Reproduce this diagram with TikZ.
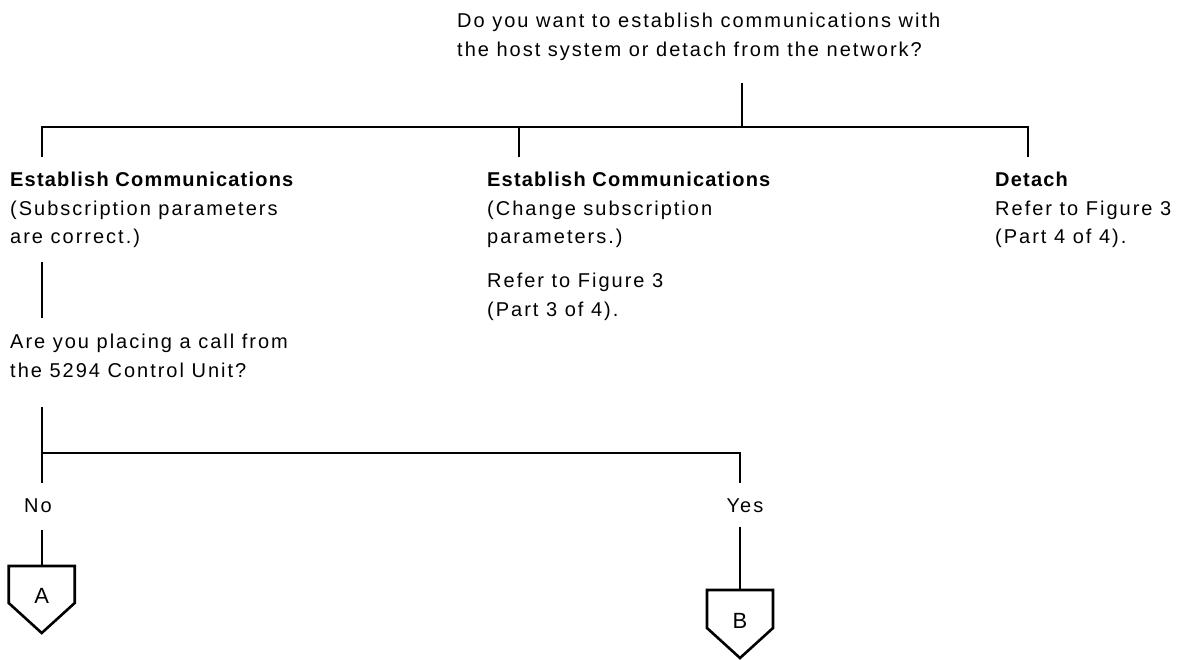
\documentclass[tikz,border=0pt]{standalone}
\usepackage{fontspec}
\setmainfont{Liberation Sans}[LetterSpace=10, BoldFeatures={LetterSpace=6}]
\usetikzlibrary{calc}

\begin{document}
\begin{tikzpicture}[x=1pt, y=-1pt,
  txt/.style={inner sep=0pt, font=\fontsize{20}{28.5}\selectfont, align=left},
  wire/.style={line width=1.8pt},
  pent/.style={line width=2.6pt, line join=miter},
  tag/.style={inner sep=0pt, anchor=base, font=\fontsize{22}{24}\selectfont}]
\useasboundingbox (0,0) rectangle (1182,660);

% question texts and answers
\node[txt, anchor=north west] (ask) at (457,13)
  {Do you want to establish communications with\\the host system or detach from the network?};
\node[txt, anchor=north west] (est1) at (10,172)
  {\textbf{Establish Communications}\\(Subscription parameters\\are correct.)};
\node[txt, anchor=north west] (est2) at (487,172)
  {\textbf{Establish Communications}\\(Change subscription\\parameters.)};
\node[txt, anchor=north west] (ref3) at (487,273)
  {Refer to Figure 3\\(Part 3 of 4).};
\node[txt, anchor=north west] (det) at (995,172)
  {\textbf{Detach}\\Refer to Figure 3\\(Part 4 of 4).};
\node[txt, anchor=north west] (call) at (10,334)
  {Are you placing a call from\\the 5294 Control Unit?};
\node[txt, anchor=base] (no) at (38,512) {No};
\node[txt, anchor=base] (yes) at (745,512) {Yes};

% off-page connector labels
\node[tag] (ta) at (41.7,603) {A};
\node[tag] (tb) at (740,628) {B};

% junction points of the tree
\coordinate (askfoot) at (742,83);
\coordinate (top) at (742,127);
\coordinate (bl) at (41.7,127);
\coordinate (bm) at (519,127);
\coordinate (br) at (1028,127);
\coordinate (est1in) at (41.7,157);
\coordinate (est2in) at (519,157);
\coordinate (detin) at (1028,157);
\coordinate (est1out) at (41.7,262);
\coordinate (callin) at (41.7,318);
\coordinate (callout) at (41.7,407);
\coordinate (cl) at (41.7,453);
\coordinate (cr) at (740,453);
\coordinate (noin) at (41.7,483);
\coordinate (yesin) at (740,483);
\coordinate (noout) at (41.7,530);
\coordinate (yesout) at (740,527);

% pentagon outlines: 66 wide, 37 high body, 30 high point
\coordinate (atop) at ($(ta.base)+(0,-37)$);
\coordinate (btop) at ($(tb.base)+(0,-38)$);
\draw[pent] ($(atop)+(-33,0)$) -- ($(atop)+(33,0)$) -- ($(ta.base)+(33,0)$)
  -- ($(ta.base)+(0,30)$) -- ($(ta.base)+(-33,0)$) -- cycle;
\draw[pent] ($(btop)+(-33,0)$) -- ($(btop)+(33,0)$) -- ($(tb.base)+(33,0)$)
  -- ($(tb.base)+(0,30)$) -- ($(tb.base)+(-33,0)$) -- cycle;

% connectors
\draw[wire] (askfoot) -- (top);
\draw[wire] (est1in) -- (bl) -- (br) -- (detin);
\draw[wire] (bm) -- (est2in);
\draw[wire] (est1out) -- (callin);
\draw[wire] (callout) -- (noin);
\draw[wire] (cl) -- (cr) -- (yesin);
\draw[wire] (noout) -- (atop);
\draw[wire] (yesout) -- (btop);
\end{tikzpicture}
\end{document}
